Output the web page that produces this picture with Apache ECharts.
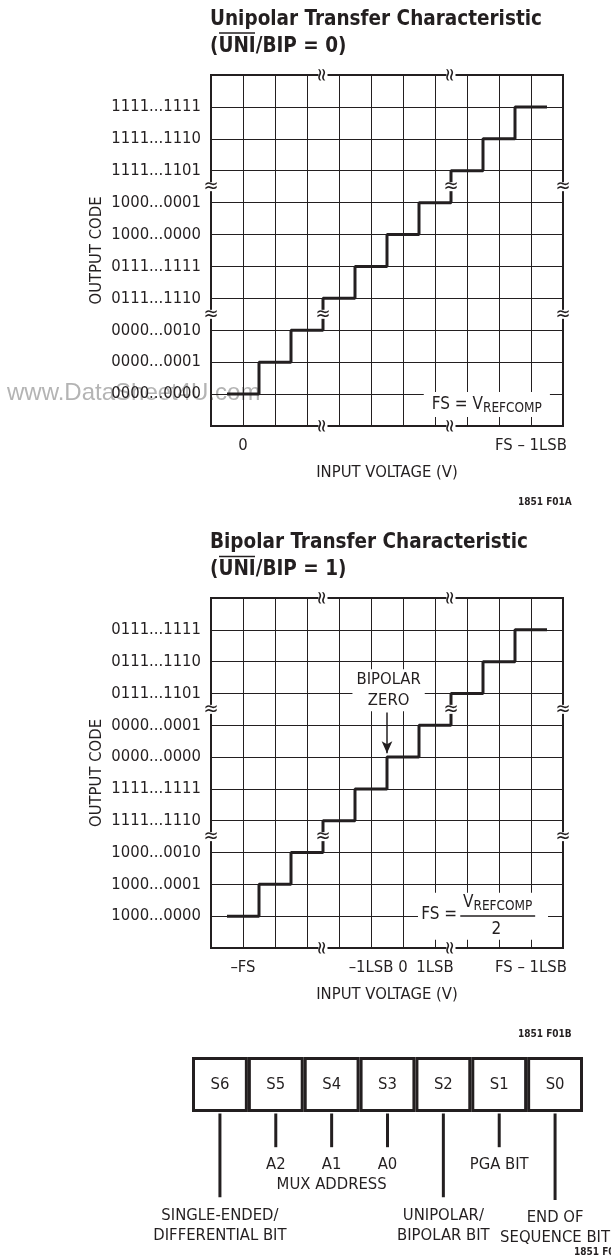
<!DOCTYPE html>
<html>
<head>
<meta charset="utf-8">
<script src="https://cdn.jsdelivr.net/npm/echarts@6/dist/echarts.min.js"></script>
<style>
  html, body { margin: 0; padding: 0; background: #fff; }
  #main { width: 611px; height: 1258px; }
</style>
</head>
<body>
<div id="main"></div>
<script>
const FONT = "'Liberation Sans Narrow', 'Arial Narrow', 'DejaVu Sans Condensed', sans-serif"
const INK = '#231f20'
const FS = 16.5 // body text size

// unipolar transfer characteristic (codes listed bottom -> top)
const uniCodes = ['0000...0000', '0000...0001', '0000...0010', '0111...1110', '0111...1111',
  '1000...0000', '1000...0001', '1111...1101', '1111...1110', '1111...1111']
const uniTickPos = [1, 10]
const uniTickNames = ['0', 'FS – 1LSB']

// bipolar transfer characteristic
const bipCodes = ['1000...0000', '1000...0001', '1000...0010', '1111...1110', '1111...1111',
  '0000...0000', '0000...0001', '0111...1101', '0111...1110', '0111...1111']
const bipTickPos = [1, 5, 6, 7, 10]
const bipTickNames = ['–FS', '–1LSB', '0', '1LSB', 'FS – 1LSB']

// staircase: input where each code starts, and the code
const stepEdges = [0.5, 1.5, 2.5, 3.5, 4.5, 5.5, 6.5, 7.5, 8.5, 9.5, 10.5]
const stepCodes = [1, 2, 3, 4, 5, 6, 7, 8, 9, 10, 10]

// where the axes are broken
const breakPos = [3.5, 7.5]

// input word bits
const bitNames = ['S6', 'S5', 'S4', 'S3', 'S2', 'S1', 'S0']
const leaderDepth = [-1.55, -0.64, -0.64, -0.64, -1.55, -0.64, -1.6]
const bitNotes = ['SINGLE-ENDED/\nDIFFERENTIAL BIT', 'A2', 'A1\nMUX ADDRESS', 'A0',
  'UNIPOLAR/\nBIPOLAR BIT', 'PGA BIT', 'END OF\nSEQUENCE BIT']

const txt = (size, extra) => Object.assign({ color: INK, fontFamily: FONT, fontSize: size }, extra)
// invisible anchor symbol; opacity 1 so the label is not faded
const HIDDEN = { color: 'rgba(0,0,0,0)', opacity: 1 }

function codeAxis(grid, codes) {
  return {
    type: 'value', gridIndex: grid, min: 0, max: 11, interval: 1,
    axisLine: { show: true, lineStyle: { color: INK, width: 2 } },
    axisTick: { show: false },
    splitLine: { show: true, lineStyle: { color: INK, width: 1 } },
    axisLabel: Object.assign({ margin: 10, formatter: v => codes[v - 1] || '' }, txt(FS)),
    name: 'OUTPUT CODE', nameLocation: 'middle', nameRotate: 90, nameGap: 106,
    nameMoveOverlap: false,
    nameTextStyle: txt(FS),
  }
}

function inputAxis(grid, pos, names) {
  return {
    type: 'value', gridIndex: grid, min: 0, max: 11, interval: 1,
    axisLine: { show: true, lineStyle: { color: INK, width: 2 } },
    axisTick: { show: false },
    splitLine: { show: true, lineStyle: { color: INK, width: 1 } },
    axisLabel: Object.assign({
      margin: 11,
      formatter: v => {
        const k = pos.indexOf(v)
        return k < 0 ? '' : names[k]
      },
    }, txt(FS)),
    name: 'INPUT VOLTAGE (V)', nameLocation: 'middle', nameGap: 38,
    nameMoveOverlap: false,
    nameTextStyle: txt(FS),
  }
}

function staircase(axis) {
  return {
    type: 'line', xAxisIndex: axis, yAxisIndex: axis, z: 3,
    step: 'end', symbol: 'none', silent: true,
    lineStyle: { color: INK, width: 3 },
    data: stepEdges.map((x, i) => [x, stepCodes[i]]),
  }
}

function breakMarks(axis) {
  const data = breakPos.flatMap(p => [
    { value: [p, 0], label: { rotate: 90 } },
    { value: [p, 11], label: { rotate: 90 } },
    { value: [0, p] },
    { value: [11, p] },
    { value: [p, p] },
  ])
  return {
    type: 'scatter', xAxisIndex: axis, yAxisIndex: axis, z: 6, silent: true,
    symbolSize: 1, itemStyle: HIDDEN,
    label: Object.assign({
      show: true, position: 'inside', formatter: '≈', textBorderWidth: 0,
      lineHeight: 9, backgroundColor: '#fff', padding: [0, 0],
    }, txt(20)),
    data: data,
  }
}

// text notes inside the plots, placed in data units
function note(axis, at, label, z) {
  return {
    type: 'scatter', xAxisIndex: axis, yAxisIndex: axis, z: z || 5, silent: true,
    symbolSize: 1, itemStyle: HIDDEN,
    label: Object.assign({ show: true, position: 'inside', textBorderWidth: 0 }, label),
    data: [at],
  }
}

const chart = echarts.init(document.getElementById('main'))

const option = {
  animation: false,
  backgroundColor: '#fff',
  title: [{
    text: 'Unipolar Transfer Characteristic\n(UNI/BIP = 0)',
    left: 210, top: 6, padding: 0,
    textStyle: txt(20.5, { fontWeight: 'bold', lineHeight: 27 }),
  }, {
    text: 'Bipolar Transfer Characteristic\n(UNI/BIP = 1)',
    left: 210, top: 529, padding: 0,
    textStyle: txt(20.5, { fontWeight: 'bold', lineHeight: 27 }),
  }, {
    text: '1851 F01A', left: 518, top: 497, padding: 0,
    textStyle: txt(10),
  }, {
    text: '1851 F01B', left: 518, top: 1029, padding: 0,
    textStyle: txt(10),
  }, {
    text: '1851 F01', left: 574, top: 1247, padding: 0,
    textStyle: txt(10),
  }],
  graphic: [{
    type: 'text', left: 7, top: 381, z: -1, silent: true,
    style: { text: 'www.DataSheet4U.com', fill: '#b4b4b4', font: "24px 'Liberation Sans', Arial, sans-serif" },
  }, {
    type: 'line', silent: true,
    shape: { x1: 219, y1: 33, x2: 255, y2: 33 }, style: { stroke: INK, lineWidth: 1.5 },
  }, {
    type: 'line', silent: true,
    shape: { x1: 219, y1: 556.5, x2: 255, y2: 556.5 }, style: { stroke: INK, lineWidth: 1.5 },
  }],
  grid: [
    { left: 211, top: 75, width: 352, height: 351, show: true, borderColor: INK, borderWidth: 2 },
    { left: 211, top: 598, width: 352, height: 350, show: true, borderColor: INK, borderWidth: 2 },
    { left: 192, top: 1057, width: 391, height: 143 },
  ],
  xAxis: [
    inputAxis(0, uniTickPos, uniTickNames),
    inputAxis(1, bipTickPos, bipTickNames),
    { type: 'category', gridIndex: 2, data: bitNames, show: false },
  ],
  yAxis: [
    codeAxis(0, uniCodes),
    codeAxis(1, bipCodes),
    { type: 'value', gridIndex: 2, min: -1.6, max: 1, show: false },
  ],
  series: [
    staircase(0),
    staircase(1),
    breakMarks(0),
    breakMarks(1),
    note(0, [8.62, 0.67], {
      formatter: '{m|FS = V}{s|REFCOMP}',
      backgroundColor: '#fff', padding: [2, 8],
      rich: { m: txt(17), s: txt(13.5, { padding: [7, 0, 0, 0] }) },
    }),
    note(1, [8.5, 1.0], {
      formatter: '{b|}',
      rich: { b: { width: 130, height: 47, backgroundColor: '#fff' } },
    }, 4),
    Object.assign(note(1, [7.13, 1.05], Object.assign({ formatter: 'FS =' }, txt(17))), {
      markLine: {
        silent: true, symbol: 'none', label: { show: false },
        lineStyle: { color: INK, width: 1.5, type: 'solid' },
        data: [[{ coord: [7.79, 1] }, { coord: [10.13, 1] }]],
      },
    }),
    note(1, [8.96, 1.43], {
      formatter: '{m|V}{s|REFCOMP}',
      rich: { m: txt(17), s: txt(13.5, { padding: [7, 0, 0, 0] }) },
    }),
    note(1, [8.92, 0.58], Object.assign({ formatter: '2' }, txt(17))),
    Object.assign(note(1, [5.55, 8.1], Object.assign({
      formatter: 'BIPOLAR\nZERO', lineHeight: 21,
      backgroundColor: '#fff', padding: [0, 4],
    }, txt(FS))), {
      markLine: {
        silent: true, label: { show: false },
        lineStyle: { color: INK, width: 1.5, type: 'solid' },
        data: [[
          { coord: [5.5, 7.4], symbol: 'none' },
          { coord: [5.5, 6.12], symbol: 'arrow', symbolSize: [8, 12] },
        ]],
      },
    }),
    {
      type: 'bar', xAxisIndex: 2, yAxisIndex: 2, silent: true,
      barWidth: '100%',
      itemStyle: { color: '#fff', borderColor: INK, borderWidth: 3 },
      label: Object.assign({ show: true, position: 'inside', formatter: '{b}' }, txt(FS)),
      data: bitNames.map(() => 1),
    },
    {
      type: 'custom', xAxisIndex: 2, yAxisIndex: 2, silent: true,
      renderItem(params, api) {
        const i = api.value(0)
        const top = api.coord([i, 0])
        const end = api.coord([i, api.value(1)])
        return {
          type: 'group',
          children: [{
            type: 'line',
            shape: { x1: top[0], y1: top[1] + 1.5, x2: end[0], y2: end[1] },
            style: { stroke: INK, lineWidth: 3 },
          }, {
            type: 'text',
            x: end[0], y: end[1] + 8,
            style: {
              text: bitNotes[i], align: 'center', verticalAlign: 'top',
              fill: INK, fontFamily: FONT, fontSize: FS, lineHeight: 20,
            },
          }],
        }
      },
      data: bitNames.map((n, i) => [i, leaderDepth[i]]),
    },
  ],
}

chart.setOption(option)
</script>
</body>
</html>
